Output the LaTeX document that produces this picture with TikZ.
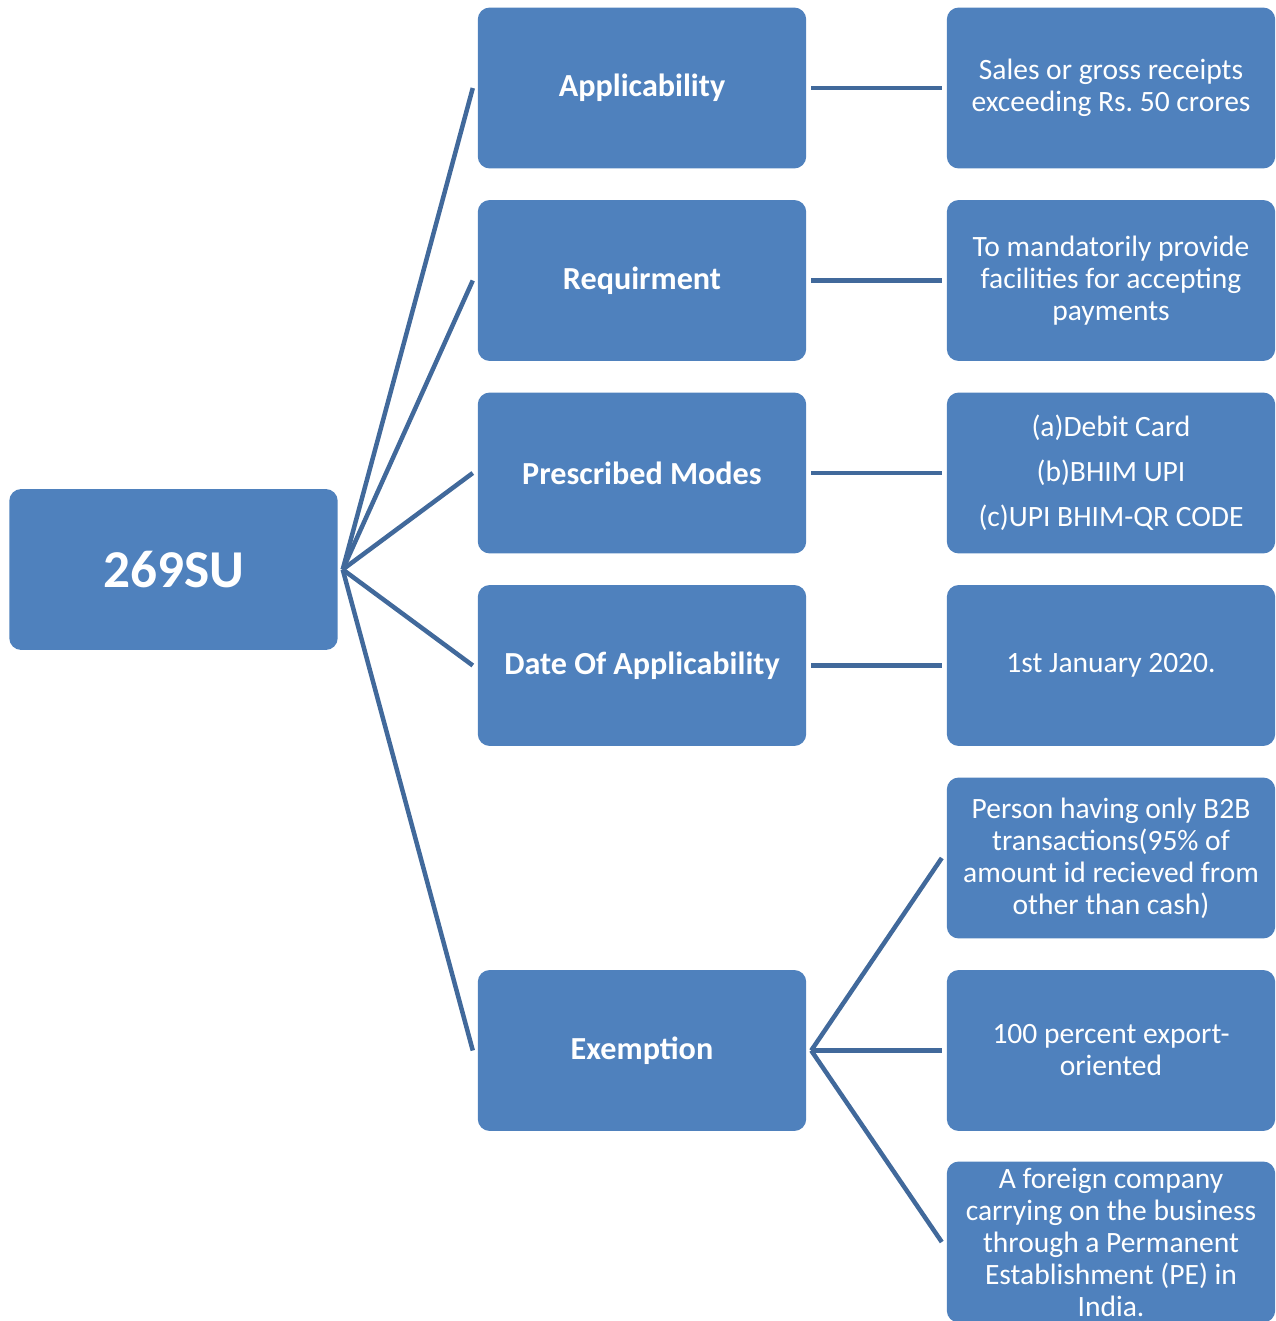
\documentclass[tikz,border=0pt]{standalone}
\usepackage{fontspec}
\setmainfont{Carlito}
\usepackage{tikz}
\usetikzlibrary{positioning}
\definecolor{boxblue}{RGB}{79,129,189}
\definecolor{linkblue}{RGB}{65,105,155}
\frenchspacing

\begin{document}
\begin{tikzpicture}[x=0.02cm, y=-0.02cm,
  box/.style={fill=boxblue, rounded corners=0.24cm, text=white, align=center, minimum width=6.57cm, minimum height=3.22cm, outer sep=0.1cm, inner sep=0pt},
  rootbox/.style={box, font=\bfseries\fontsize{30.3}{34}\selectfont},
  topic/.style={box, font=\bfseries\fontsize{18.3}{20}\selectfont},
  detail/.style={box, font=\fontsize{16.8}{18.2}\selectfont},
  link/.style={draw=linkblue, line width=0.09cm}]
\useasboundingbox (0,0) rectangle (1275,1321);

\node[rootbox] (sec) at (173.5,569.5) {269SU};

\node[topic] (appl) at (642,88) {Applicability};
\node[topic] (req) at (642,280.5) {Requirment};
\node[topic] (modes) at (642,473) {Prescribed Modes};
\node[topic] (date) at (642,665.5) {Date Of Applicability};
\node[topic] (exempt) at (642,1050.5) {Exemption};

\node[detail] (applTxt) at (1111,88) {Sales or gross receipts\\exceeding Rs. 50 crores};
\node[detail] (reqTxt) at (1111,280.5) {To mandatorily provide\\facilities for accepting\\payments};
\node[detail] (modesTxt) at (1111,473) {(a)Debit Card\\[7.5pt](b)BHIM UPI\\[7.5pt](c)UPI BHIM-QR CODE};
\node[detail] (dateTxt) at (1111,665.5) {1st January 2020.};
\node[detail] (exB2B) at (1111,858) {Person having only B2B\\transactions(95\% of\\amount id recieved from\\other than cash)};
\node[detail] (exExport) at (1111,1050.5) {100 percent export-\\oriented};
\node[detail] (exForeign) at (1111,1242) {A foreign company\\carrying on the business\\through a Permanent\\Establishment (PE) in\\India.};

% root to topics
\foreach \t in {appl, req, modes, date, exempt}
  \draw[link] (sec.east) -- (\t.west);

% topics to details
\draw[link] (appl.east) -- (applTxt.west);
\draw[link] (req.east) -- (reqTxt.west);
\draw[link] (modes.east) -- (modesTxt.west);
\draw[link] (date.east) -- (dateTxt.west);
\foreach \d in {exB2B, exExport, exForeign}
  \draw[link] (exempt.east) -- (\d.west);
\end{tikzpicture}
\end{document}
